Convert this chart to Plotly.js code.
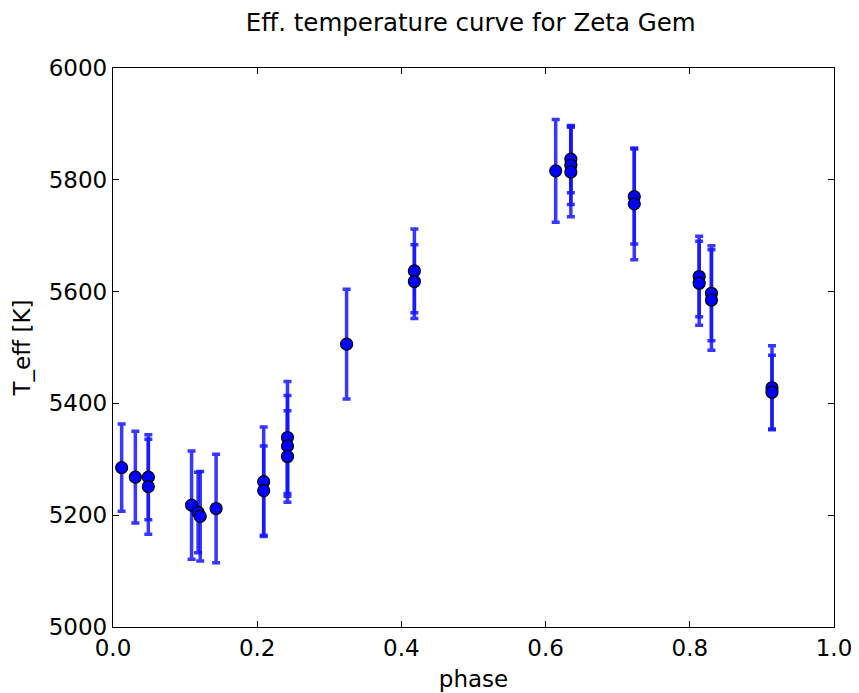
<!DOCTYPE html>
<html>
<head>
<meta charset="utf-8">
<script src="https://cdn.plot.ly/plotly-3.0.1.min.js"></script>
<style>html,body{margin:0;padding:0;background:#fff;}#chart{width:859px;height:693px;}</style>
</head>
<body>
<div id="chart"></div>
<script>
const phase = [0.012, 0.031, 0.049, 0.049, 0.109, 0.118, 0.121, 0.143, 0.209, 0.209, 0.242, 0.242, 0.242, 0.324, 0.418, 0.418, 0.614, 0.635, 0.635, 0.635, 0.723, 0.723, 0.813, 0.813, 0.830, 0.830, 0.914, 0.914];
const teff  = [5285, 5268, 5268, 5251, 5218, 5205, 5198, 5212, 5260, 5244, 5339, 5324, 5305, 5506, 5637, 5618, 5816, 5837, 5826, 5814, 5770, 5757, 5627, 5615, 5597, 5585, 5428, 5420];
const terr  = [78, 82, 76, 85, 97, 72, 80, 97, 98, 80, 100, 90, 82, 98, 75, 66, 92, 60, 70, 80, 85, 100, 72, 75, 85, 90, 75, 66];

const trace = {
  x: phase, y: teff, type: 'scatter', mode: 'markers',
  error_y: {type: 'data', array: terr, visible: true, color: 'rgba(20,20,255,0.85)', thickness: 3.5, width: 4},
  marker: {color: 'rgb(0,0,255)', size: 12, line: {color: '#000', width: 1.2}},
  hoverinfo: 'x+y'
};

const font = {family: 'DejaVu Sans, sans-serif', color: '#000'};
const layout = {
  width: 859, height: 693,
  margin: {l: 113, r: 25, t: 68, b: 66},
  paper_bgcolor: '#fff', plot_bgcolor: '#fff',
  showlegend: false,
  title: {text: 'Eff. temperature curve for Zeta Gem', font: Object.assign({size: 24.5}, font), x: 0.548, xanchor: 'center', y: 0.968, yanchor: 'middle'},
  xaxis: {
    range: [0, 1], dtick: 0.2, tickformat: '.1f',
    showgrid: false, zeroline: false,
    showline: true, linecolor: '#000', linewidth: 1.2, mirror: 'ticks',
    ticks: 'inside', ticklen: 6, tickcolor: '#000',
    tickfont: Object.assign({size: 23}, font),
    title: {text: 'phase', font: Object.assign({size: 23}, font), standoff: 11}
  },
  yaxis: {
    range: [5000, 6000], dtick: 200,
    showgrid: false, zeroline: false,
    showline: true, linecolor: '#000', linewidth: 1.2, mirror: 'ticks',
    ticks: 'inside', ticklen: 6, tickcolor: '#000',
    tickfont: Object.assign({size: 23}, font),
    title: {text: 'T_eff [K]', font: Object.assign({size: 23}, font), standoff: 11}
  }
};
Plotly.newPlot('chart', [trace], layout, {displayModeBar: false, staticPlot: true});
</script>
</body>
</html>
